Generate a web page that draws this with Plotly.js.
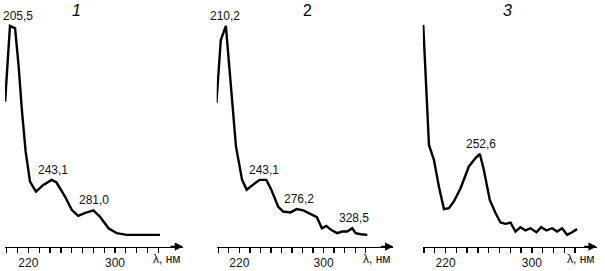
<!DOCTYPE html>
<html>
<head>
<meta charset="utf-8">
<script src="https://cdn.plot.ly/plotly-3.0.1.min.js"></script>
<style>html,body{margin:0;padding:0;background:#fff;}#chart{width:605px;height:271px;}</style>
</head>
<body>
<div id="chart"></div>
<script>
// Spectrum 1
const wl1 = [198.5, 203, 207.7, 211, 214, 217.5, 221.5, 227, 233.8, 241.5, 246, 253.8, 260, 266, 272, 280, 286, 294, 301.5, 310.8, 341.5];
const abs1 = [65.9, 100.3, 99.2, 82, 62, 43, 29.5, 25, 28, 30.3, 29.1, 22.7, 16.7, 13.9, 15.2, 16.4, 13.6, 8.3, 6.1, 5.3, 5.3];
// Spectrum 2
const wl2 = [198.2, 202.4, 207.2, 212, 216.8, 222.6, 227, 232.8, 239.2, 245.6, 250.4, 256.8, 261.6, 268.6, 274.4, 280.8, 287.2, 293.6, 298.4, 302.6, 307, 312.8, 317.6, 322.4, 327.2, 330.4, 335.2, 341.6];
const abs2 = [65.2, 93.9, 100.3, 74.2, 45.5, 30.3, 25.8, 28, 30.3, 30.3, 25.8, 18.2, 15.9, 15.5, 17, 16.4, 14.8, 13.3, 8.3, 9.4, 7.6, 6.1, 6.8, 6.8, 8.3, 6.1, 5.6, 5.3];
// Spectrum 3
const wl3 = [199.3, 204.6, 209.2, 213.8, 218.5, 223.1, 227.7, 233.9, 241.6, 247.8, 251.8, 255.5, 261, 266.3, 270.9, 275.6, 280.2, 284.8, 289.4, 294.1, 298.7, 304.3, 308.6, 313.5, 318.8, 323.4, 328, 332.7, 337.3, 341.9];
const abs3 = [100.8, 46.2, 39.4, 27.3, 17, 17.4, 20.5, 26.5, 36.4, 40.2, 42.1, 34.8, 21.2, 15.2, 10.9, 10.3, 10.9, 6.8, 8.8, 7.3, 8.3, 6.5, 8.8, 7.3, 8.3, 6.8, 8.3, 5.3, 6.5, 7.9];

// Peak labels
const peaks1 = [{x: 205.5, y: 100.3, t: "205,5"}, {x: 243.1, y: 30.3, t: "243,1"}, {x: 281.0, y: 16.4, t: "281,0"}];
const peaks2 = [{x: 210.2, y: 100.3, t: "210,2"}, {x: 243.1, y: 30.3, t: "243,1"}, {x: 276.2, y: 17, t: "276,2"}, {x: 328.5, y: 8.3, t: "328,5"}];
const peaks3 = [{x: 252.6, y: 42.1, t: "252,6"}];
const panelTitles = ["1", "2", "3"];

const tickVals = [200, 210, 220, 230, 240, 250, 260, 270, 280, 290, 300, 310, 320, 330, 340];
const tickText = ["", "", "220", "", "", "", "", "", "", "", "300", "", "", "", ""];
const axisUnit = "λ, нм";

const W = 605, H = 271;
const axisYpx = 246.5;
const yDomLo = (H - axisYpx) / H;
const yMax = 112.1;

const panels = [
  {px: [5, 183], range: [198.4, 362.8]},
  {px: [216.7, 393.3], range: [198.5, 366.2]},
  {px: [422.7, 596.7], range: [198.8, 360.1]}
];
// pixel nudges for peak labels (layout only)
const labelShift = [[5, 0, 0], [-4, 0, 0, 0], [0]];

const line = {color: "#000", width: 2.4, shape: "linear"};
const traces = [
  {x: wl1, y: abs1, xaxis: "x", yaxis: "y", mode: "lines", line: line, hoverinfo: "none"},
  {x: wl2, y: abs2, xaxis: "x2", yaxis: "y2", mode: "lines", line: line, hoverinfo: "none"},
  {x: wl3, y: abs3, xaxis: "x3", yaxis: "y3", mode: "lines", line: line, hoverinfo: "none"}
];

const layout = {
  width: W, height: H,
  margin: {l: 0, r: 0, t: 0, b: 0},
  paper_bgcolor: "#fff", plot_bgcolor: "rgba(0,0,0,0)",
  showlegend: false,
  font: {family: "Liberation Sans, Arial, sans-serif", color: "#000", size: 12},
  annotations: [],
  shapes: []
};

const font = {family: "Liberation Sans, Arial, sans-serif", size: 12, color: "#111"};
panels.forEach((p, i) => {
  const s = i === 0 ? "" : String(i + 1);
  layout["xaxis" + s] = {
    domain: [p.px[0] / W, p.px[1] / W],
    range: p.range,
    anchor: "y" + s,
    showgrid: false, zeroline: false,
    showline: true, linecolor: "#000", linewidth: 1.5,
    ticks: "outside", ticklen: 5, tickwidth: 1.3, tickcolor: "#000",
    tickmode: "array", tickvals: tickVals, ticktext: tickText,
    tickfont: font, fixedrange: true
  };
  layout["yaxis" + s] = {
    domain: [yDomLo, 1],
    range: [0, yMax],
    anchor: "x" + s,
    visible: false, fixedrange: true
  };
  layout.annotations.push({
    xref: "x" + s, yref: "y" + s, x: p.range[1], y: 0,
    axref: "pixel", ayref: "pixel", ax: -14, ay: 0,
    showarrow: true, arrowhead: 2, arrowsize: 1.1, arrowwidth: 1.5, arrowcolor: "#000", text: ""
  });
  layout.annotations.push({
    xref: "x" + s, yref: "paper", x: p.range[1], y: (H - 259) / H,
    xanchor: "right", yanchor: "middle", showarrow: false,
    text: axisUnit, font: font
  });
  const titleX = [77, 308, 507][i];
  layout.annotations.push({
    xref: "paper", yref: "paper", x: titleX / W, y: (H - 10) / H,
    xanchor: "center", yanchor: "middle", showarrow: false,
    text: i === 1 ? panelTitles[i] : "<i>" + panelTitles[i] + "</i>",
    font: {family: "Liberation Sans, Arial, sans-serif", size: 16, color: "#000"}
  });
});

const peakSets = [peaks1, peaks2, peaks3];
peakSets.forEach((set, i) => {
  const s = i === 0 ? "" : String(i + 1);
  set.forEach((pk, j) => {
    layout.annotations.push({
      xref: "x" + s, yref: "y" + s, x: pk.x, y: pk.y,
      xanchor: "center", yanchor: "bottom", yshift: 1, xshift: labelShift[i][j],
      showarrow: false, text: pk.t, font: font
    });
  });
});

Plotly.newPlot("chart", traces, layout, {staticPlot: true, displayModeBar: false});
</script>
</body>
</html>
